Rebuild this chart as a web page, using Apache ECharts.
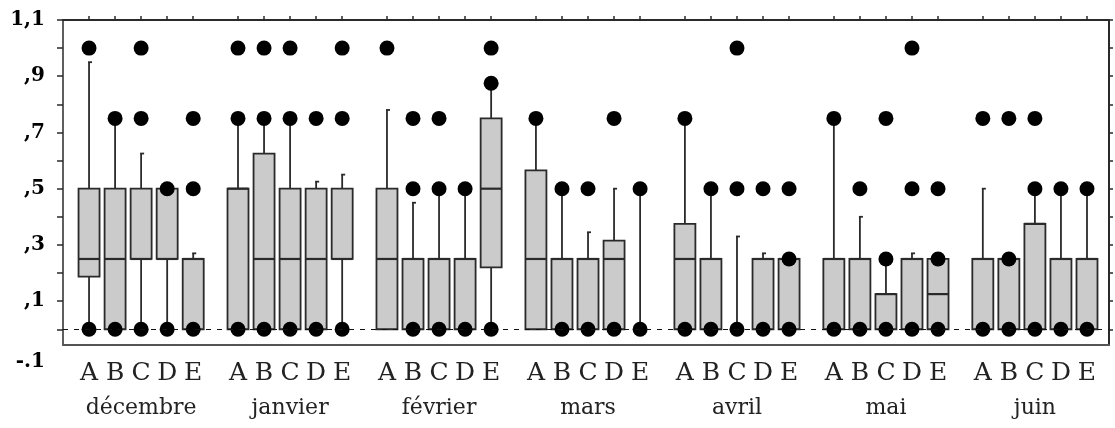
<!DOCTYPE html>
<html>
<head>
<meta charset="utf-8">
<script src="https://cdn.jsdelivr.net/npm/echarts@6/dist/echarts.min.js"></script>
<style>
html,body{margin:0;padding:0;background:#fff;}
#chart{width:1115px;height:428px;}
</style>
</head>
<body>
<div id="chart"></div>
<script>
// ---- data ----
const months = ['décembre', 'janvier', 'février', 'mars', 'avril', 'mai', 'juin'];
const groups = ['A', 'B', 'C', 'D', 'E'];
// per box, order: month by month, A..E
const whiskerLow = [
  0, 0, 0, 0, 0,
  0, 0, 0, 0, 0,
  0, 0, 0, 0, 0,
  0, 0, 0, 0, 0,
  0, 0, 0, 0, 0,
  0, 0, 0, 0, 0,
  0, 0, 0, 0, 0
];
const q1 = [
  0.1875, 0, 0.25, 0.25, 0,
  0, 0, 0, 0, 0.25,
  0, 0, 0, 0, 0.22,
  0, 0, 0, 0, 0,
  0, 0, 0, 0, 0,
  0, 0, 0, 0, 0,
  0, 0, 0, 0, 0
];
const median = [
  0.25, 0.25, 0.25, 0.25, 0.25,
  0.5, 0.25, 0.25, 0.25, 0.25,
  0.25, 0.25, 0.25, 0.25, 0.5,
  0.25, 0.25, 0.25, 0.25, 0,
  0.25, 0.25, 0, 0.25, 0.25,
  0.25, 0.25, 0.125, 0.25, 0.125,
  0.25, 0.25, 0.375, 0.25, 0.25
];
const q3 = [
  0.5, 0.5, 0.5, 0.5, 0.25,
  0.5, 0.625, 0.5, 0.5, 0.5,
  0.5, 0.25, 0.25, 0.25, 0.75,
  0.565, 0.25, 0.25, 0.315, 0,
  0.375, 0.25, 0, 0.25, 0.25,
  0.25, 0.25, 0.125, 0.25, 0.25,
  0.25, 0.25, 0.375, 0.25, 0.25
];
const whiskerHigh = [
  0.95, 0.75, 0.625, 0.5, 0.27,
  0.75, 0.75, 0.75, 0.525, 0.55,
  0.78, 0.45, 0.5, 0.5, 0.875,
  0.75, 0.5, 0.345, 0.5, 0.5,
  0.75, 0.5, 0.33, 0.27, 0.25,
  0.75, 0.4, 0.25, 0.27, 0.25,
  0.5, 0.25, 0.5, 0.5, 0.5
];
const dots = [
  [1.0, 0], [0.75, 0], [1.0, 0.75, 0], [0.5, 0], [0.75, 0.5, 0],
  [1.0, 0.75, 0], [1.0, 0.75, 0], [1.0, 0.75, 0], [0.75, 0], [1.0, 0.75, 0],
  [1.0], [0.75, 0.5, 0], [0.75, 0.5, 0], [0.5, 0], [1.0, 0.875, 0],
  [0.75], [0.5, 0], [0.5, 0], [0.75, 0], [0.5, 0],
  [0.75, 0], [0.5, 0], [1.0, 0.5, 0], [0.5, 0], [0.5, 0.25, 0],
  [0.75, 0], [0.5, 0], [0.75, 0.25, 0], [1.0, 0.5, 0], [0.5, 0.25, 0],
  [0.75, 0], [0.75, 0.25, 0], [0.75, 0.5, 0], [0.5, 0], [0.5, 0]
];
const yTickValues = [1.1, 1.0, 0.9, 0.8, 0.7, 0.6, 0.5, 0.4, 0.3, 0.2, 0.1, 0];
const yLabelValues = [1.1, 0.9, 0.7, 0.5, 0.3, 0.1];
const yLabelTexts = ['1,1', ',9', ',7', ',5', ',3', ',1'];
const yBottomLabel = '-.1';

// ---- layout ----
const GROUP_STEP = 5.72;
const Y_MIN = -0.056, Y_MAX = 1.1;
const X_MIN = -1, X_MAX = 39.165;
const BOX_W = 21;

const boxPos = [];
const letterByPos = {};
months.forEach((m, g) => groups.forEach((l, i) => {
  const x = +(g * GROUP_STEP + i).toFixed(3);
  boxPos.push(x);
  letterByPos[x.toFixed(3)] = l;
}));
const monthPos = months.map((m, g) => +(g * GROUP_STEP + 2).toFixed(3));
const monthByPos = {};
monthPos.forEach((p, g) => monthByPos[p.toFixed(3)] = months[g]);

const boxData = boxPos.map((x, k) => [x, whiskerLow[k], q1[k], median[k], q3[k], whiskerHigh[k]]);
const dotData = [];
dots.forEach((arr, k) => arr.forEach(v => dotData.push([boxPos[k], v])));

const lineCol = '#2a2a2a';

const chart = echarts.init(document.getElementById('chart'), null, {renderer: 'canvas'});
chart.setOption({
  animation: false,
  backgroundColor: '#fff',
  grid: {left: 63, right: 6, top: 20, bottom: 83, containLabel: false},
  xAxis: [
    {
      type: 'value', position: 'bottom', min: X_MIN, max: X_MAX,
      axisLine: {show: true, onZero: false, lineStyle: {color: '#555', width: 2}},
      axisTick: {show: false},
      splitLine: {show: false},
      axisLabel: {
        customValues: boxPos, margin: 16,
        fontFamily: 'DejaVu Serif', fontSize: 25, color: '#222',
        formatter: v => letterByPos[(+v).toFixed(3)] || ''
      }
    },
    {
      type: 'value', position: 'bottom', min: X_MIN, max: X_MAX,
      axisLine: {show: false}, axisTick: {show: false}, splitLine: {show: false},
      axisLabel: {
        customValues: monthPos, margin: 52,
        fontFamily: 'DejaVu Serif', fontSize: 22, color: '#222',
        formatter: v => monthByPos[(+v).toFixed(3)] || ''
      }
    },
    {
      type: 'value', position: 'top', min: X_MIN, max: X_MAX,
      axisLine: {show: true, onZero: false, lineStyle: {color: lineCol, width: 2}},
      axisTick: {show: true, customValues: boxPos, length: 4, inside: false, lineStyle: {color: lineCol, width: 1.5}},
      axisLabel: {show: false}, splitLine: {show: false}
    }
  ],
  yAxis: [
    {
      type: 'value', position: 'left', min: Y_MIN, max: Y_MAX,
      axisLine: {show: true, onZero: false, lineStyle: {color: lineCol, width: 1.5}},
      axisTick: {show: true, customValues: yTickValues, length: 6, lineStyle: {color: lineCol, width: 1.5}},
      splitLine: {show: false},
      axisLabel: {
        customValues: yLabelValues.concat([Y_MIN]), margin: 18,
        fontFamily: 'DejaVu Serif', fontWeight: 'bold', fontSize: 20, color: '#000',
        formatter: v => {
          if (Math.abs(v - Y_MIN) < 1e-6) return '{low|' + yBottomLabel + '}';
          const i = yLabelValues.findIndex(t => Math.abs(t - v) < 1e-6);
          return i >= 0 ? yLabelTexts[i] : '';
        },
        rich: {low: {fontFamily: 'DejaVu Serif', fontWeight: 'bold', fontSize: 20, color: '#000', padding: [34, 0, 0, 0]}}
      }
    },
    {
      type: 'value', position: 'right', min: Y_MIN, max: Y_MAX,
      axisLine: {show: true, onZero: false, lineStyle: {color: lineCol, width: 2}},
      axisTick: {show: true, customValues: yTickValues, length: 4, lineStyle: {color: lineCol, width: 1.5}},
      axisLabel: {show: false}, splitLine: {show: false}
    }
  ],
  series: [
    {
      type: 'custom', name: 'boxes', xAxisIndex: 0, yAxisIndex: 0, z: 2,
      data: boxData,
      encode: {x: 0, y: [1, 2, 3, 4, 5]},
      renderItem: function (params, api) {
        const x = api.value(0);
        const lo = api.value(1), a = api.value(2), md = api.value(3), b = api.value(4), hi = api.value(5);
        const pLo = api.coord([x, lo]), pHi = api.coord([x, hi]);
        const pA = api.coord([x, a]), pB = api.coord([x, b]), pM = api.coord([x, md]);
        const hw = BOX_W / 2;
        const ch = [];
        if (hi > lo) {
          ch.push({type: 'line', shape: {x1: pLo[0], y1: pLo[1], x2: pHi[0], y2: pHi[1]},
            style: {stroke: lineCol, lineWidth: 1.8}});
          ch.push({type: 'line', shape: {x1: pHi[0] - 1, y1: pHi[1], x2: pHi[0] + 3, y2: pHi[1]},
            style: {stroke: lineCol, lineWidth: 1.8}});
        }
        if (b > a) {
          ch.push({type: 'rect', shape: {x: pA[0] - hw, y: pB[1], width: BOX_W, height: pA[1] - pB[1]},
            style: {fill: '#cbcbcb', stroke: lineCol, lineWidth: 1.8}});
          ch.push({type: 'line', shape: {x1: pM[0] - hw, y1: pM[1], x2: pM[0] + hw, y2: pM[1]},
            style: {stroke: lineCol, lineWidth: 2.2}});
        }
        return {type: 'group', children: ch};
      },
      markLine: {
        silent: true, symbol: 'none', label: {show: false},
        lineStyle: {color: '#111', width: 1, type: [5, 6], opacity: 1},
        data: [{yAxis: 0}]
      }
    },
    {
      type: 'scatter', name: 'dots', xAxisIndex: 0, yAxisIndex: 0, z: 3,
      data: dotData, symbol: 'circle', symbolSize: 15,
      itemStyle: {color: '#000', opacity: 1}
    }
  ]
});
</script>
</body>
</html>
